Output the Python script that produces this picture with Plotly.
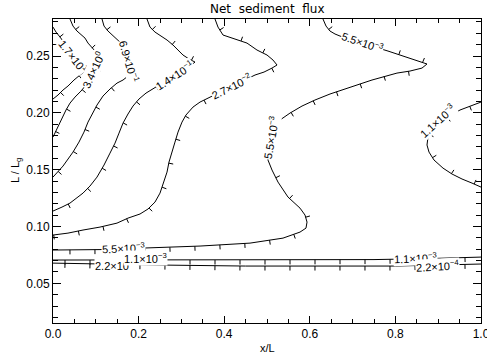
import math
import plotly.graph_objects as go

# ---------------- data ----------------
# contour level 1.7e1
c17_x = [0, 0.007, 0.0164, 0.0257, 0.0374, 0.0514, 0.0654, 0.0748, 0.0631, 0.0491, 0.035, 0.0234, 0.0117, 0]
c17_y = [0.2755, 0.2711, 0.2667, 0.2623, 0.2562, 0.2491, 0.2421, 0.2368, 0.2333, 0.2289, 0.2236, 0.2201, 0.2157, 0.2122]
# contour level 3.4e0
c34_x = [0.0397, 0.0467, 0.0561, 0.0678, 0.0748, 0.0818, 0.0911, 0.1005, 0.1098, 0.1075, 0.1005, 0.0911,
         0.0771, 0.0654, 0.0514, 0.0397, 0.0304, 0.021, 0.0117, 0.0047, 0]
c34_y = [0.2826, 0.2764, 0.272, 0.2685, 0.2658, 0.2614, 0.257, 0.2535, 0.25, 0.2447, 0.2377, 0.2315,
         0.2245, 0.2192, 0.2139, 0.2086, 0.2025, 0.1954, 0.1884, 0.1831, 0.1787]
# contour level 6.9e-1
c069_x = [0.1145, 0.1192, 0.1285, 0.1402, 0.1519, 0.1612, 0.1706, 0.1776, 0.1799, 0.1752, 0.1636, 0.1495,
          0.1332, 0.1168, 0.1028, 0.0911, 0.0818, 0.0724, 0.0607, 0.0467, 0.0234, 0]
c069_y = [0.2826, 0.2764, 0.272, 0.2676, 0.2641, 0.2606, 0.2535, 0.2465, 0.2394, 0.2324, 0.2289, 0.2262,
          0.221, 0.2148, 0.2069, 0.199, 0.1919, 0.1831, 0.1743, 0.1655, 0.1532, 0.1435]
# contour level 1.4e-1
c014_x = [0.2196, 0.2266, 0.2383, 0.2523, 0.2664, 0.2804, 0.2921, 0.3037, 0.3178, 0.3318, 0.3201, 0.3014,
          0.2804, 0.257, 0.236, 0.2173, 0.2009, 0.1869, 0.1752, 0.1636, 0.1542, 0.1449, 0.1332, 0.1192,
          0.1028, 0.0864, 0.0701, 0.0537, 0.0397, 0.021, 0]
c014_y = [0.2826, 0.2755, 0.2711, 0.2676, 0.2641, 0.2597, 0.2553, 0.2509, 0.2474, 0.2447, 0.2412, 0.2368,
          0.2324, 0.2271, 0.2218, 0.2174, 0.2122, 0.206, 0.199, 0.191, 0.1822, 0.1734, 0.1646, 0.1541,
          0.1435, 0.1356, 0.1294, 0.1242, 0.1206, 0.1171, 0.1136]
# contour level 2.7e-2
c0027_x = [0.3785, 0.3855, 0.3972, 0.4206, 0.4533, 0.4766, 0.5, 0.514, 0.5234, 0.5117, 0.493, 0.472,
           0.4486, 0.4252, 0.4019, 0.3715, 0.3435, 0.3271, 0.3107, 0.3014, 0.2921, 0.285, 0.278, 0.271,
           0.2664, 0.2593, 0.25, 0.2383, 0.222, 0.2033, 0.1752, 0.1495, 0.1098, 0.0701, 0.035, 0]
c0027_y = [0.2826, 0.2755, 0.2685, 0.2658, 0.2614, 0.2553, 0.2509, 0.2465, 0.2421, 0.2394, 0.2359, 0.2333,
           0.2289, 0.2245, 0.2201, 0.2148, 0.2095, 0.2051, 0.1981, 0.1919, 0.1831, 0.1743, 0.1655, 0.1567,
           0.1479, 0.1391, 0.1294, 0.1215, 0.1154, 0.111, 0.1074, 0.103, 0.0995, 0.0969, 0.0942, 0.0925]
# contour level 5.5e-3
c0055_x = [0.6308, 0.6379, 0.6472, 0.6589, 0.6706, 0.6939, 0.722, 0.7523, 0.7827, 0.8107, 0.8341, 0.8575,
           0.8738, 0.8621, 0.8341, 0.8037, 0.7757, 0.7453, 0.7173, 0.6822, 0.6472, 0.6121, 0.5818, 0.5537,
           0.5304, 0.5187, 0.5093, 0.5047, 0.5023, 0.5117, 0.5257, 0.5491, 0.5771, 0.5888, 0.5935, 0.5911,
           0.5771, 0.5374, 0.4603, 0.3435, 0.2266, 0.1098, 0]
c0055_y = [0.2826, 0.2764, 0.272, 0.2694, 0.2676, 0.265, 0.2614, 0.2579, 0.2544, 0.2509, 0.2482, 0.2456,
           0.243, 0.2394, 0.2368, 0.235, 0.2324, 0.2289, 0.2254, 0.221, 0.2166, 0.2113, 0.206, 0.1998,
           0.1937, 0.1849, 0.1761, 0.1673, 0.1585, 0.1497, 0.1391, 0.1259, 0.1162, 0.1101, 0.1039, 0.0986,
           0.0951, 0.0898, 0.0854, 0.0828, 0.081, 0.0797, 0.0793]
# contour level 1.1e-3 (right pocket)
c0011a_x = [1.0, 0.9743, 0.9509, 0.9276, 0.9042, 0.8855, 0.8762, 0.8738, 0.8785, 0.8902, 0.9112, 0.9322,
            0.9556, 0.979, 1.0]
c0011a_y = [0.2095, 0.206, 0.2025, 0.1972, 0.191, 0.1849, 0.1787, 0.1717, 0.1655, 0.1585, 0.1514, 0.1462,
            0.1418, 0.1382, 0.1347]
# contour level 1.1e-3 (bottom)
c0011b_x = [0, 0.25, 0.5, 0.75, 0.88, 1.0]
c0011b_y = [0.0705, 0.0705, 0.0705, 0.0709, 0.0718, 0.0731]
# contour level 2.2e-4
c00022_x = [0, 0.1, 0.25, 0.45, 0.65, 0.8, 0.9, 1.0]
c00022_y = [0.0678, 0.067, 0.0661, 0.0652, 0.0652, 0.0652, 0.0661, 0.067]

# contour labels: text, x, y, angle
label_text = ["1.7×10<sup>1</sup>", "3.4×10<sup>0</sup>", "6.9×10<sup>−1</sup>", "1.4×10<sup>−1</sup>",
              "2.7×10<sup>−2</sup>", "5.5×10<sup>−3</sup>", "5.5×10<sup>−3</sup>", "5.5×10<sup>−3</sup>",
              "1.1×10<sup>−3</sup>", "2.2×10<sup>−4</sup>", "1.1×10<sup>−3</sup>", "1.1×10<sup>−3</sup>",
              "2.2×10<sup>−4</sup>"]
label_x = [0.0467, 0.0935, 0.1776, 0.285, 0.4182, 0.722, 0.5093, 0.1636, 0.8972, 0.1495, 0.215, 0.8458, 0.8995]
label_y = [0.25, 0.2377, 0.2456, 0.2333, 0.2236, 0.2623, 0.1787, 0.081, 0.1928, 0.0661, 0.0722, 0.0722, 0.0652]
label_angle = [52, -65, 74, -33, -26, 19, -80, -2, -42, 0, 0, -2, -3]

x_tickvals = [0.0, 0.2, 0.4, 0.6, 0.8, 1.0]
y_tickvals = [0.05, 0.10, 0.15, 0.20, 0.25]

# ---------------- layout constants ----------------
W, H = 487, 360
ML, MR, MT, MB = 53, 6, 19, 37
PW, PH = W - ML - MR, H - MT - MB
XR = [0.0, 1.0]
YR = [0.0151, 0.2826]


def to_px(x, y):
    return (ML + (x - XR[0]) / (XR[1] - XR[0]) * PW,
            MT + (YR[1] - y) / (YR[1] - YR[0]) * PH)


def to_data(px, py):
    return (XR[0] + (px - ML) / PW * (XR[1] - XR[0]),
            YR[1] - (py - MT) / PH * (YR[1] - YR[0]))


def downhill_ticks(xs, ys, sign=1, spacing=25, length=4.5, start=12):
    pts = [to_px(x, y) for x, y in zip(xs, ys)]
    tx, ty = [], []
    nxt, acc = start, 0.0
    for (x0, y0), (x1, y1) in zip(pts[:-1], pts[1:]):
        seg = math.hypot(x1 - x0, y1 - y0)
        if seg == 0:
            continue
        dx, dy = (x1 - x0) / seg, (y1 - y0) / seg
        while nxt <= acc + seg:
            f = (nxt - acc) / seg
            px, py = x0 + f * (x1 - x0), y0 + f * (y1 - y0)
            nx, ny = dy * sign, -dx * sign
            a = to_data(px, py)
            b = to_data(px + nx * length, py + ny * length)
            tx += [a[0], b[0], None]
            ty += [a[1], b[1], None]
            nxt += spacing
        acc += seg
    return tx, ty


contours = [
    (c17_x, c17_y, 1),
    (c34_x, c34_y, 1),
    (c069_x, c069_y, 1),
    (c014_x, c014_y, 1),
    (c0027_x, c0027_y, 1),
    (c0055_x, c0055_y, 1),
    (c0011a_x, c0011a_y, 1),
    (c0011b_x, c0011b_y, -1),
    (c00022_x, c00022_y, -1),
]

fig = go.Figure()
for xs, ys, sgn in contours:
    fig.add_trace(go.Scatter(x=xs, y=ys, mode="lines", line=dict(color="black", width=1),
                             showlegend=False, hoverinfo="skip"))
    tx, ty = downhill_ticks(xs, ys, sgn)
    fig.add_trace(go.Scatter(x=tx, y=ty, mode="lines", line=dict(color="black", width=1),
                             showlegend=False, hoverinfo="skip"))

annotations = []
for t, x, y, a in zip(label_text, label_x, label_y, label_angle):
    annotations.append(dict(x=x, y=y, xref="x", yref="y", text=t, showarrow=False, textangle=a,
                            bgcolor="white", borderpad=0,
                            font=dict(family="Liberation Sans", size=11, color="black")))

annotations += [
    dict(x=0.5, y=1, xref="paper", yref="paper", yshift=10, text="Net  sediment  flux", showarrow=False,
         yanchor="middle", font=dict(family="DejaVu Sans", size=12, color="black")),
    dict(x=0.5, y=0, xref="paper", yref="paper", yshift=-25, text="x/L", showarrow=False,
         yanchor="middle", font=dict(family="Liberation Sans", size=11, color="black")),
    dict(x=0, y=0.5, xref="paper", yref="paper", xshift=-37, text="L / L<sub>g</sub>", showarrow=False,
         textangle=-90, xanchor="center", yanchor="middle",
         font=dict(family="Liberation Sans", size=11, color="black")),
]

axis_common = dict(showline=True, linecolor="black", linewidth=1, mirror="allticks", ticks="inside",
                   tickcolor="black", tickwidth=1, showgrid=False, zeroline=False,
                   ticklabeloverflow="allow",
                   tickfont=dict(family="Liberation Sans", size=12, color="black"))

fig.update_layout(
    width=W, height=H,
    margin=dict(l=ML, r=MR, t=MT, b=MB, autoexpand=False),
    paper_bgcolor="white", plot_bgcolor="white",
    xaxis=dict(range=XR, tickvals=x_tickvals, ticktext=[f"{v:.1f}" for v in x_tickvals], ticklen=7,
               minor=dict(ticks="inside", dtick=0.05, tick0=0, ticklen=4, tickcolor="black", showgrid=False),
               **axis_common),
    yaxis=dict(range=YR, tickvals=y_tickvals, ticktext=[f"{v:.2f}" for v in y_tickvals], ticklen=8,
               minor=dict(ticks="inside", dtick=0.01, tick0=0, ticklen=5, tickcolor="black", showgrid=False),
               **axis_common),
    annotations=annotations,
)

fig.write_html("out.html", config={"displayModeBar": False},
               post_script="document.body.style.margin='0';document.body.style.overflow='hidden';")
